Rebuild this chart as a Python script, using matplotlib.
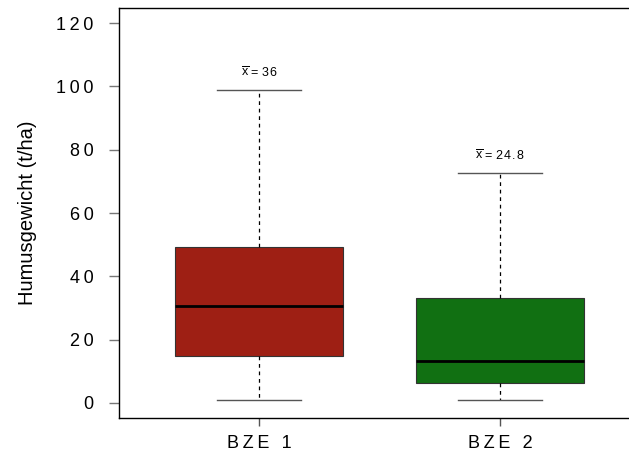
import matplotlib
matplotlib.use("Agg")
import matplotlib.pyplot as plt

categories = ["BZE 1", "BZE 2"]
whislo = [1.0, 1.0]
q1 = [14.7, 6.2]
med = [30.6, 13.3]
q3 = [49.2, 33.2]
whishi = [99.0, 72.7]
means = [36, 24.8]
box_colors = ["#9E1F14", "#117012"]
yticks = [0, 20, 40, 60, 80, 100, 120]

plt.rcParams['font.family'] = ['Liberation Sans', 'DejaVu Sans']
plt.rcParams['mathtext.fontset'] = 'custom'
plt.rcParams['mathtext.rm'] = 'Liberation Sans'
plt.rcParams['mathtext.it'] = 'Liberation Sans'

fig = plt.figure(figsize=(6.29, 4.53), dpi=100)
ax = fig.add_axes([119/629, 35/453, 510/629, 410/453])

stats = []
for i, c in enumerate(categories):
    stats.append(dict(label=c, whislo=whislo[i], q1=q1[i], med=med[i],
                      q3=q3[i], whishi=whishi[i], fliers=[]))
pos = [1, 2]
bp = ax.bxp(stats, positions=pos, widths=0.70, patch_artist=True,
            showfliers=False,
            boxprops=dict(edgecolor="#333333", linewidth=0.8),
            medianprops=dict(color="black", linewidth=2.0),
            whiskerprops=dict(color="black", linestyle=(0, (3, 3)), linewidth=0.9),
            capprops=dict(color="#555555", linewidth=1.0),
            capwidths=0.345)
for patch, col in zip(bp['boxes'], box_colors):
    patch.set_facecolor(col)

def spaced(s, sep="\u2009"):
    return sep.join(s)

for p, m, hi in zip(pos, means, whishi):
    ax.text(p, hi + 5.2, r"$\overline{\mathrm{x}}$ = " + spaced(str(m), "\u200a"),
            ha="center", va="center", fontsize=9)

ax.set_xlim(0.419, 2.535)
ax.set_ylim(-4.74, 124.74)
ax.set_yticks(yticks)
ax.set_yticklabels([spaced(str(t)) for t in yticks], fontsize=13)
ax.set_xticks(pos)
ax.set_xticklabels([spaced(c) for c in categories], fontsize=13)
ax.tick_params(axis='y', length=7.2, color="#777777", pad=11, width=1)
ax.tick_params(axis='x', length=6, color="#555555", pad=6, width=1)
ax.spines['right'].set_visible(False)
for s in ['left', 'top', 'bottom']:
    ax.spines[s].set_linewidth(1.0)
ax.set_ylabel("Humusgewicht (t/ha)", fontsize=14.5, labelpad=14)

fig.savefig("out.png", dpi=100)
